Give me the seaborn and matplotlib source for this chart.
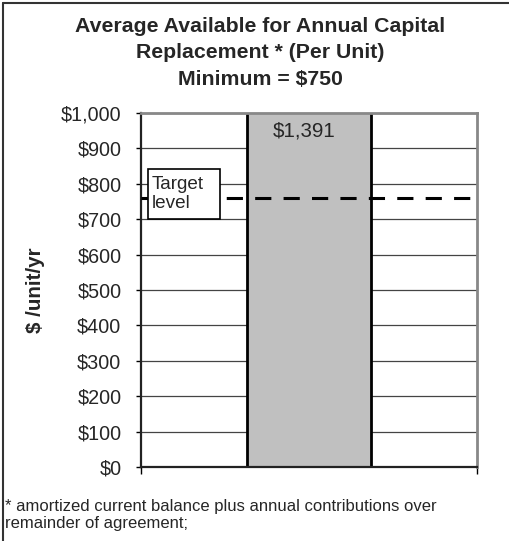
import matplotlib.pyplot as plt
import matplotlib.transforms as mtransforms
from matplotlib.lines import Line2D
from matplotlib.patches import Rectangle
import pandas as pd
import seaborn as sns

# data
categories = ["Per Unit"]
values = [1391]
target_value = 760
y_ticks = [0, 100, 200, 300, 400, 500, 600, 700, 800, 900, 1000]
bar_labels = ["$1,391"]

df = pd.DataFrame({"category": categories, "value": values})

sns.set_style("white")
plt.rcParams["font.family"] = ["Liberation Sans", "DejaVu Sans"]

fig = plt.figure(figsize=(5.09, 5.41), dpi=100)
ax = fig.add_axes([141 / 509, 74 / 541, 336 / 509, 354 / 541])

sns.barplot(data=df, x="category", y="value", color="#C0C0C0", width=0.372,
            edgecolor="black", linewidth=2, saturation=1, ax=ax, zorder=2)

ax.set_xlim(-0.5, 0.5)
ax.set_ylim(0, 1000)
ax.set_yticks(y_ticks)
ax.set_yticklabels([f"${v:,}" for v in y_ticks], fontsize=14.2)
ax.set_xticks([-0.5, 0.5])
ax.set_xticklabels(["", ""])
ax.set_xlabel("")
ax.set_ylabel("$ /unit/yr", fontsize=14.8, fontweight="bold")
ax.yaxis.set_label_coords(-0.285, 0.5)
ax.tick_params(axis="y", direction="out", length=3.6, width=1, color="black", pad=10.5,
               left=True)
ax.tick_params(axis="x", direction="out", length=5, width=1, color="black",
               bottom=True)

ax.yaxis.grid(True, color="#444444", linewidth=0.9)
ax.set_axisbelow(True)

for side in ["top", "right"]:
    ax.spines[side].set_color("#888888")
    ax.spines[side].set_linewidth(2)
for side in ["left", "bottom"]:
    ax.spines[side].set_color("#222222")
    ax.spines[side].set_linewidth(1.6)

# target dashed line
ax.axhline(target_value, color="black", linewidth=2.2, dashes=(5.3, 4.0), zorder=3)

# target label box
blend = mtransforms.blended_transform_factory(ax.transAxes, ax.transData)
ax.add_patch(Rectangle((7 / 336, 700), 72 / 336, 141, transform=blend,
                       facecolor="white", edgecolor="black", linewidth=1.2,
                       zorder=4, clip_on=False))
ax.text(11 / 336, 771, "Target\nlevel", transform=blend, ha="left", va="center",
        fontsize=13.6, linespacing=1.15, zorder=5)

# bar value label (bar is clipped at the top of the axis)
for i, lab in enumerate(bar_labels):
    ax.annotate(lab, xy=(i, 1000), xytext=(-3.2, -6), textcoords="offset points",
                ha="center", va="top", fontsize=14.8, zorder=5)

# title
fig.text(260 / 509, 1 - 53 / 541,
         "Average Available for Annual Capital\nReplacement * (Per Unit)\nMinimum = $750",
         ha="center", va="center", fontsize=15.3, fontweight="bold", linespacing=1.5)

# footnote
fig.text(5 / 509, 1 - 499 / 541,
         "* amortized current balance plus annual contributions over\nremainder of agreement;",
         ha="left", va="top", fontsize=12, linespacing=1.2)

# outer border (left and top only visible)
fig.add_artist(Line2D([3 / 509, 3 / 509], [0, 1 - 3 / 541], transform=fig.transFigure,
                      color="#333333", linewidth=1.5))
fig.add_artist(Line2D([3 / 509, 1], [1 - 3 / 541, 1 - 3 / 541], transform=fig.transFigure,
                      color="#333333", linewidth=1.5))

fig.savefig("out.png", dpi=100)
